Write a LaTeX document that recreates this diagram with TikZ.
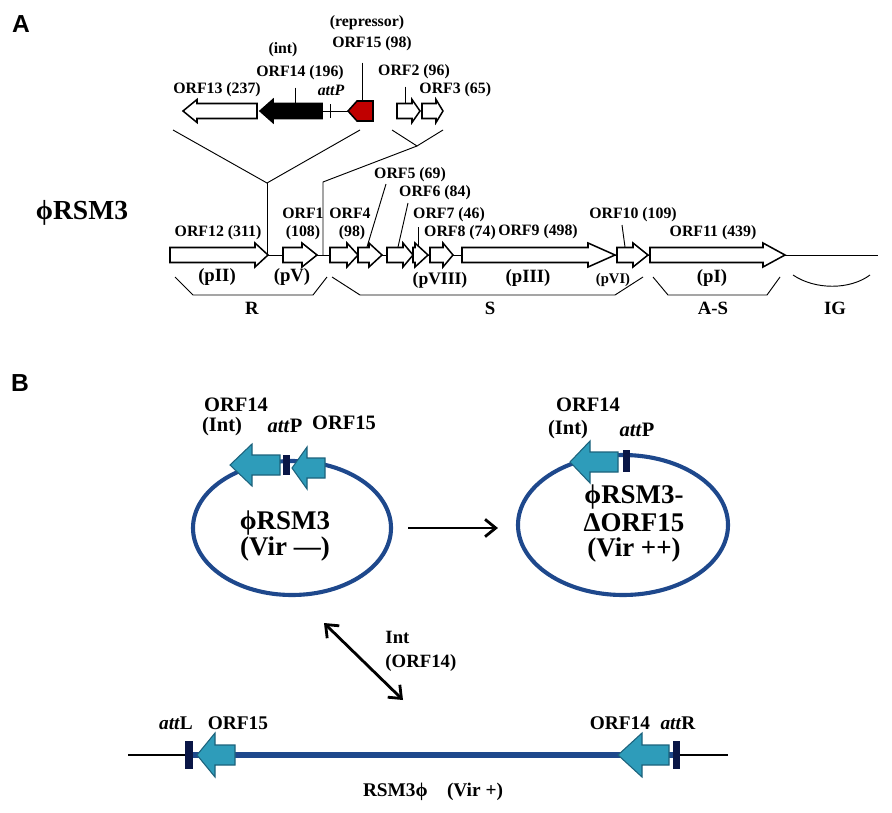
\documentclass[tikz,border=0pt]{standalone}
\usepackage{fontspec}
\setmainfont{Liberation Serif}
\newfontfamily\panelfont{Liberation Sans}
\usetikzlibrary{positioning,arrows,arrows.meta,calc,shapes.geometric}

\definecolor{geneRed}{RGB}{192,0,0}
\definecolor{ringBlue}{RGB}{30,72,140}
\definecolor{orfCyan}{RGB}{46,156,186}
\definecolor{orfEdge}{RGB}{28,98,124}
\definecolor{attNavy}{RGB}{10,22,70}

% gene arrows: tail/base/tip, y, body half, head half, style
\newcommand{\geneR}[7]{\draw[#7] (#1,#4-#5) -- (#2,#4-#5) -- (#2,#4-#6) -- (#3,#4) -- (#2,#4+#6) -- (#2,#4+#5) -- (#1,#4+#5) -- cycle;}
% tip/base/tail
\newcommand{\geneL}[7]{\draw[#7] (#1,#4) -- (#2,#4-#6) -- (#2,#4-#5) -- (#3,#4-#5) -- (#3,#4+#5) -- (#2,#4+#5) -- (#2,#4+#6) -- cycle;}

\begin{document}
\begin{tikzpicture}[x=0.03cm, y=-0.03cm, thick]
\tikzstyle{orflab} = [font=\fontsize{13.5}{15}\selectfont\bfseries, inner sep=0pt]
\tikzstyle{protlab} = [font=\fontsize{16}{18}\selectfont\bfseries, inner sep=0pt]
\tikzstyle{blab} = [font=\fontsize{17.5}{19}\selectfont\bfseries, inner sep=0pt]
\tikzstyle{biglab} = [font=\fontsize{23}{26}\selectfont\bfseries, inner sep=0pt]
\tikzstyle{panel} = [font=\panelfont\fontsize{21}{24}\selectfont\bfseries, inner sep=0pt]
\tikzstyle{gn} = [draw=black, line width=1.3pt, fill=white]
\tikzstyle{cyanorf} = [draw=orfEdge, fill=orfCyan, line width=0.9pt]
\tikzstyle{ring} = [draw=ringBlue, line width=3.5pt, shape=ellipse, inner sep=0pt]
\tikzstyle{flow} = [line width=2.4pt, >={Straight Barb[length=3.2mm,width=5.2mm]}]
\tikzstyle{bar} = [fill=attNavy]

\useasboundingbox (0,0) rectangle (892,813);

% panel A
\node[panel] (pA) at (21,24) {A};
\node[biglab, font=\fontsize{23.5}{26}\selectfont\bfseries] (phiA) at (82,213) {ϕRSM3};

% insert
\node[orflab] (rep) at (367,23) {(repressor)};
\node[orflab] (o15) at (372,44) {ORF15 (98)};
\node[orflab] (int) at (283,50) {(int)};
\node[orflab] (o14) at (300,73) {ORF14 (196)};
\node[orflab] (o2) at (414,72) {ORF2 (96)};
\node[orflab] (o13) at (217,90) {ORF13 (237)};
\node[orflab] (attp) at (331,90) {\itshape attP};
\node[orflab, anchor=west] (o3) at (419,90) {ORF3 (65)};

\draw (322,111) -- (348,111);
\draw (330,104) -- (330,118);
\geneL{183}{197}{257}{111}{7.5}{11.5}{gn}
\geneL{260}{273}{322}{111}{7.5}{11.5}{gn, fill=black}
\geneL{348}{357}{373}{111}{10}{10}{gn, fill=geneRed}
\geneR{397}{412}{420}{111}{7.5}{11.5}{gn}
\geneR{422}{436}{443}{111}{7.5}{11.5}{gn}

\coordinate (g14) at (295,103.5);
\coordinate (g15) at (362,101);
\coordinate (g2) at (405,103.5);
\draw (o14.south -| g14) ++(0,7) -- (g14);
\draw (o15.south -| g15) ++(0,11) -- (g15);
\draw (o2.south -| g2) ++(0,7) -- (g2);

% expansion lines
\coordinate (fa) at (267,183);
\coordinate (fb) at (417,146);
\coordinate (fc) at (323,182);
\draw (173,130) -- (fa) -- (360,130);
\draw (392,130) -- (fb) -- (443,130);
\draw (fa) -- (267,255);
\draw (fb) -- (fc) -- (323,255);

% genome
\draw (170,255) -- (878,255);
\geneR{170}{255}{268}{255}{7.5}{12}{gn}
\geneR{283}{302}{317}{255}{7.5}{12}{gn}
\geneR{330}{347}{358}{255}{7.5}{12}{gn}
\geneR{358}{369}{382}{255}{7.5}{12}{gn}
\geneR{387}{403}{413}{255}{7.5}{12}{gn}
\geneR{413}{415}{428}{255}{7.5}{12}{gn}
\geneR{430}{443}{453}{255}{7.5}{12}{gn}
\geneR{462}{588}{615}{255}{7.5}{12}{gn}
\geneR{617}{633}{648}{255}{7.5}{12}{gn}
\geneR{650}{763}{785}{255}{7.5}{12}{gn}

\node[orflab] (o12) at (218,233) {ORF12 (311)};
\node[orflab] (o1) at (303,213) {ORF1};
\node[orflab] (o1n) at (303,233) {(108)};
\node[orflab] (o4) at (350,213) {ORF4};
\node[orflab] (o4n) at (352,233) {(98)};
\node[orflab] (o5) at (410,175) {ORF5 (69)};
\node[orflab] (o6) at (435,193) {ORF6 (84)};
\node[orflab] (o7) at (449,215) {ORF7 (46)};
\node[orflab] (o8) at (460,233) {ORF8 (74)};
\node[orflab] (o9) at (538,232) {ORF9 (498)};
\node[orflab] (o10) at (633,215) {ORF10 (109)};
\node[orflab] (o11) at (713,233) {ORF11 (439)};

\draw (386,184) -- (367,247);
\draw (408,203) -- (398,247);
\draw (418,227) -- (418,247);
\draw (622,225) -- (625,247);

\node[protlab] (pII) at (217,277) {(pII)};
\node[protlab] (pV) at (292,277) {(pV)};
\node[orflab, font=\fontsize{15}{17}\selectfont\bfseries] (pVIII) at (440,280) {(pVIII)};
\node[protlab] (pIII) at (528,278) {(pIII)};
\node[orflab, font=\fontsize{12.5}{14}\selectfont\bfseries] (pVI) at (613,280) {(pVI)};
\node[protlab] (pI) at (712,278) {(pI)};

\draw (175,277) -- (193,295) -- (313,295) -- (327,277);
\draw (332,277) -- (360,295) -- (615,295) -- (643,277);
\draw (653,277) -- (668,295) -- (767,295) -- (780,277);
\draw (793,275) .. controls (815,290) and (850,290) .. (870,275);

\node[protlab] (rR) at (252,308) {R};
\node[protlab] (rS) at (490,308) {S};
\node[protlab] (rAS) at (713,308) {A-S};
\node[protlab] (rIG) at (835,308) {IG};

% panel B
\node[panel] (pB) at (20,383) {B};

\node[ring, minimum width=5.94cm, minimum height=4.02cm] (ringL) at (292,528) {};
\node[ring, minimum width=6.3cm, minimum height=4.2cm] (ringR) at (623,525) {};

\geneL{230}{252}{280}{465}{10}{21}{cyanorf}
\fill[bar] (283,455) rectangle (290,475);
\geneL{292}{307}{325}{468}{10}{21}{cyanorf}
\geneL{570}{590}{618}{462}{10}{21}{cyanorf}
\fill[bar] (623,450) rectangle (630,472);

\node[blab] (b14) at (236,405) {ORF14};
\node[blab] (bint) at (222,427) {(Int)};
\node[blab] (batt) at (285,426) {\textit{att}P};
\node[blab] (b15) at (344,423) {ORF15};
\node[biglab] (bphi) at (285,523) {ϕRSM3};
\node[biglab] (bvir) at (285,549) {(Vir —)};

\node[blab] (c14) at (588,405) {ORF14};
\node[blab] (cint) at (568,430) {(Int)};
\node[blab] (catt) at (637,430) {\textit{att}P};
\node[biglab] (cphi) at (634,497) {ϕRSM3-};
\node[biglab] (cdel) at (634,523) {ΔORF15};
\node[biglab] (cvir) at (634,550) {(Vir ++)};

\draw[flow, ->] ([xshift=0.45cm]ringL.east) -- ([xshift=-0.54cm]ringR.west |- ringL.east);

\coordinate (intTop) at (324,623);
\coordinate (intBot) at (403,700);
\draw[flow, <->] (intTop) -- (intBot);
\node[protlab, anchor=west] (eint) at (385,637) {Int};
\node[protlab, anchor=west] (eorf) at (385,663) {(ORF14)};

% prophage
\coordinate (lineL) at (128,755);
\coordinate (lineR) at (728,755);
\coordinate (attL) at (189,755);
\coordinate (attR) at (676,755);
\draw[line width=1.6pt] (lineL) -- (lineR);
\draw[ringBlue, line width=4.5pt] (attL) -- (attR);
\fill[bar] (185,741) rectangle (193,769);
\fill[bar] (673,741) rectangle (680,769);
\geneL{197}{215}{235}{755}{10}{22}{cyanorf}
\geneL{618}{642}{669}{755}{10}{22}{cyanorf}

\node[blab, font=\fontsize{16.5}{18}\selectfont\bfseries] (dattl) at (176,723) {\textit{att}L};
\node[blab, font=\fontsize{16.5}{18}\selectfont\bfseries] (d15) at (238,723) {ORF15};
\node[blab, font=\fontsize{16.5}{18}\selectfont\bfseries] (d14) at (620,723) {ORF14};
\node[blab, font=\fontsize{16.5}{18}\selectfont\bfseries] (dattr) at (678,723) {\textit{att}R};
\node[blab, font=\fontsize{16.5}{18}\selectfont\bfseries] (dname) at (433,792) {RSM3ϕ\hspace{1em}(Vir +)};
\end{tikzpicture}
\end{document}
